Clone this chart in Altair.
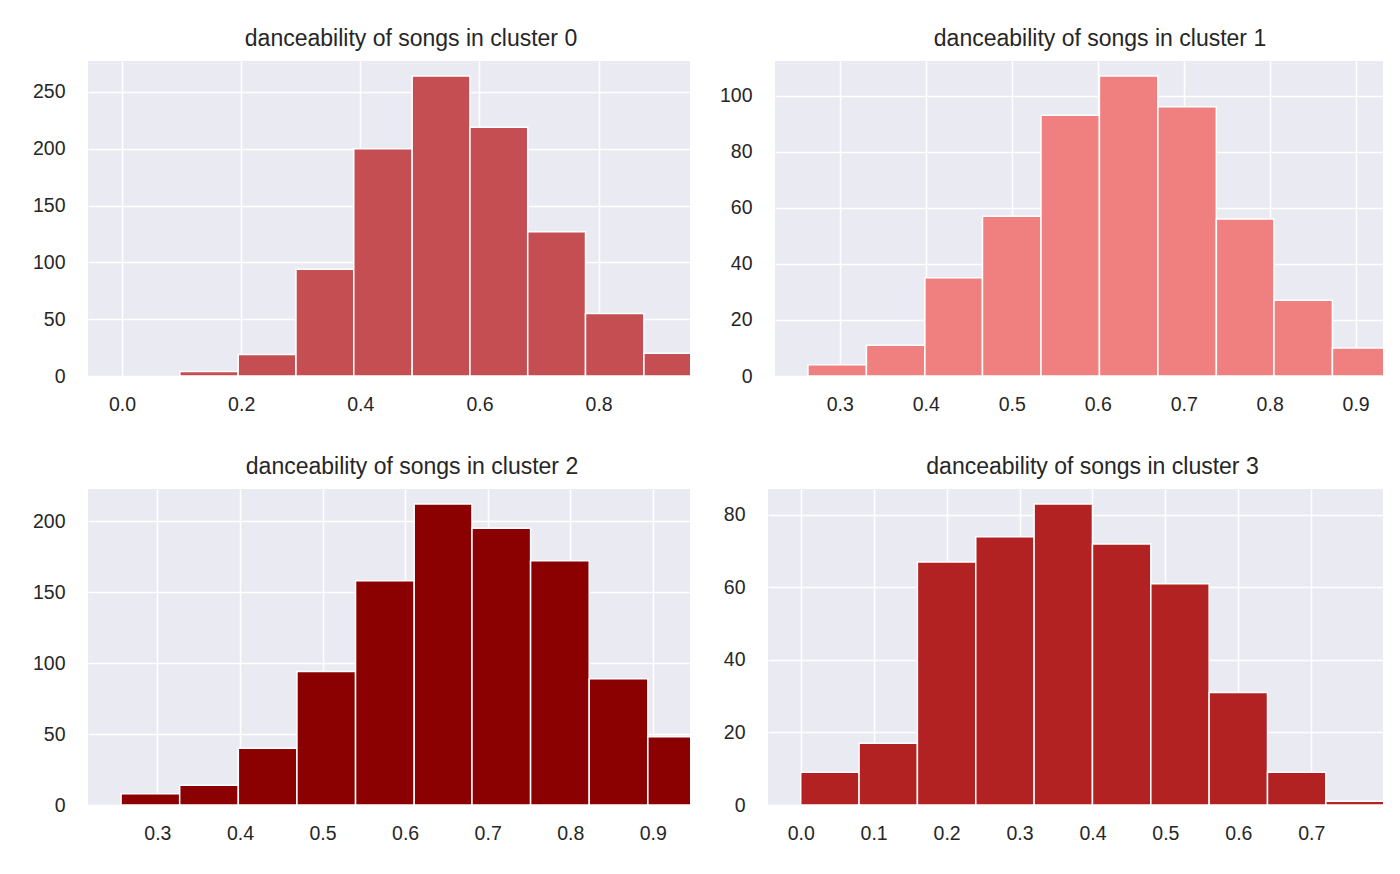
"""Danceability histograms for the four song clusters."""

import pandas as pd
import altair as alt

# bin edges (10 bins each) and counts
edges_0 = [0.000, 0.097, 0.195, 0.292, 0.389, 0.487, 0.584, 0.681, 0.778, 0.876, 0.973]
counts_0 = [0, 4, 19, 94, 200, 264, 219, 127, 55, 20]

edges_1 = [0.263, 0.331, 0.399, 0.466, 0.534, 0.602, 0.670, 0.738, 0.805, 0.873, 0.941]
counts_1 = [4, 11, 35, 57, 93, 107, 96, 56, 27, 10]

edges_2 = [0.256, 0.327, 0.398, 0.469, 0.540, 0.611, 0.681, 0.752, 0.823, 0.894, 0.965]
counts_2 = [8, 14, 40, 94, 158, 212, 195, 172, 89, 48]

edges_3 = [0.00, 0.08, 0.16, 0.24, 0.32, 0.40, 0.48, 0.56, 0.64, 0.72, 0.80]
counts_3 = [9, 17, 67, 74, 83, 72, 61, 31, 9, 1]

colors = ['#C44E52', '#F08080', '#8B0000', '#B22222']

x_ticks_0 = [0.0, 0.2, 0.4, 0.6, 0.8]
x_ticks_1 = [0.3, 0.4, 0.5, 0.6, 0.7, 0.8, 0.9]
x_ticks_2 = [0.3, 0.4, 0.5, 0.6, 0.7, 0.8, 0.9]
x_ticks_3 = [0.0, 0.1, 0.2, 0.3, 0.4, 0.5, 0.6, 0.7]

y_ticks_0 = [0, 50, 100, 150, 200, 250]
y_ticks_1 = [0, 20, 40, 60, 80, 100]
y_ticks_2 = [0, 50, 100, 150, 200]
y_ticks_3 = [0, 20, 40, 60, 80]


def hist_panel(cluster, edges, counts, color, x_domain, x_ticks, y_top, y_ticks,
               width, height, title_dx):
    """One histogram panel drawn from bin edges and counts."""
    df = pd.DataFrame({'start': edges[:-1], 'end': edges[1:], 'count': counts})
    df = df[df['count'] > 0]
    return alt.Chart(df).mark_bar(
        color=color, stroke='white', strokeWidth=1.5, clip=True, orient='vertical'
    ).encode(
        x=alt.X('start:Q', title=None,
                scale=alt.Scale(domain=x_domain, nice=False, zero=False),
                axis=alt.Axis(values=x_ticks, format='.1f')),
        x2='end:Q',
        y=alt.Y('count:Q', title=None,
                scale=alt.Scale(domain=[0, y_top], nice=False),
                axis=alt.Axis(values=y_ticks, format='d')),
        y2=alt.datum(0),
    ).properties(
        width=width, height=height,
        title=alt.TitleParams(f'danceability of songs in cluster {cluster}', dx=title_dx),
    )


p0 = hist_panel(0, edges_0, counts_0, colors[0], [-0.0487, 0.945], x_ticks_0,
                277.2, y_ticks_0, 602, 315, 22)
p1 = hist_panel(1, edges_1, counts_1, colors[1], [0.2305, 0.926], x_ticks_1,
                112.35, y_ticks_1, 608, 315, 21)
p2 = hist_panel(2, edges_2, counts_2, colors[2], [0.222, 0.939], x_ticks_2,
                222.6, y_ticks_2, 602, 316, 23)
p3 = hist_panel(3, edges_3, counts_3, colors[3], [-0.038, 0.7915], x_ticks_3,
                87.15, y_ticks_3, 615, 316, 17)

top_row = alt.hconcat(p0, p1, spacing=85, bounds='flush')
bottom_row = alt.hconcat(p2, p3, spacing=78, bounds='flush')

chart = alt.vconcat(top_row, bottom_row, spacing=42).properties(
    padding={'left': 24, 'top': 20, 'right': 5, 'bottom': 5},
).configure_view(
    fill='#EAEAF2', strokeWidth=0,
).configure_axis(
    labelFont='Liberation Sans', labelFontSize=19.5, labelColor='#262626',
    grid=True, gridColor='white', gridWidth=1.5,
    domain=False, ticks=False, tickSize=0,
).configure_axisX(
    labelPadding=19,
).configure_axisY(
    labelPadding=23,
).configure_title(
    font='Liberation Sans', fontSize=23, fontWeight='normal', color='#262626',
    anchor='middle', offset=10,
)

chart.save('out.html', embed_options={'renderer': 'svg', 'actions': False})
